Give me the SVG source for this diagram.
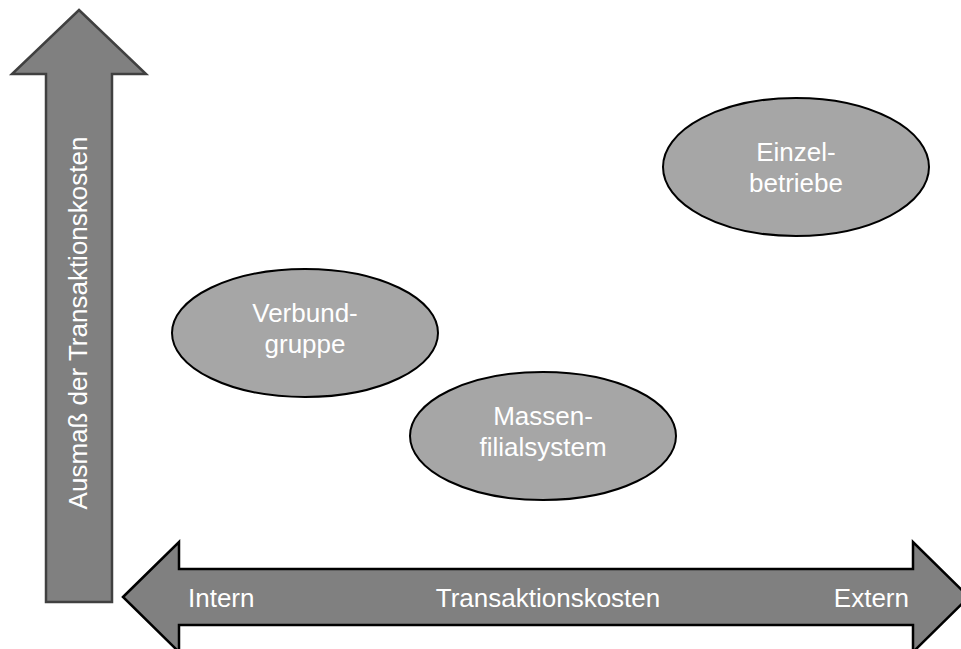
<svg xmlns="http://www.w3.org/2000/svg" width="961" height="649" viewBox="0 0 961 649">
<style>
  .lbl{font-family:"Liberation Sans",Arial,sans-serif;font-size:26px;fill:#ffffff;text-anchor:middle}
  .node ellipse{fill:#a6a6a6;stroke:#000;stroke-width:2}
  .arrow{fill:#808080}
</style>
<rect width="961" height="649" fill="#fff"/>
<g id="connectors">
  <g id="axis-y">
    <path class="arrow" d="M79,10 L146,74 L112,74 L112,602 L46,602 L46,74 L12,74 Z" stroke="#404040" stroke-width="2.5" stroke-linejoin="miter"/>
    <text class="lbl" transform="translate(87,323) rotate(-90)">Ausmaß der Transaktionskosten</text>
  </g>
  <g id="axis-x">
    <path class="arrow" d="M123,597 L179,542 L179,569 L913,569 L913,542 L969,597 L913,652 L913,625 L179,625 L179,652 Z" stroke="#000" stroke-width="2.5"/>
    <text class="lbl" x="188" y="607" style="text-anchor:start">Intern</text>
    <text class="lbl" x="548" y="607">Transaktionskosten</text>
    <text class="lbl" x="909" y="607" style="text-anchor:end">Extern</text>
  </g>
</g>
<g id="einzelbetriebe" class="node">
  <ellipse cx="796" cy="167" rx="133" ry="69"/>
  <text class="lbl" x="796" y="161">Einzel-</text>
  <text class="lbl" x="796" y="192">betriebe</text>
</g>
<g id="verbundgruppe" class="node">
  <ellipse cx="305" cy="333" rx="133" ry="64"/>
  <text class="lbl" x="305" y="322">Verbund-</text>
  <text class="lbl" x="305" y="353">gruppe</text>
</g>
<g id="massenfilialsystem" class="node">
  <ellipse cx="543" cy="436" rx="133" ry="64"/>
  <text class="lbl" x="543" y="425">Massen-</text>
  <text class="lbl" x="543" y="456">filialsystem</text>
</g>
</svg>
